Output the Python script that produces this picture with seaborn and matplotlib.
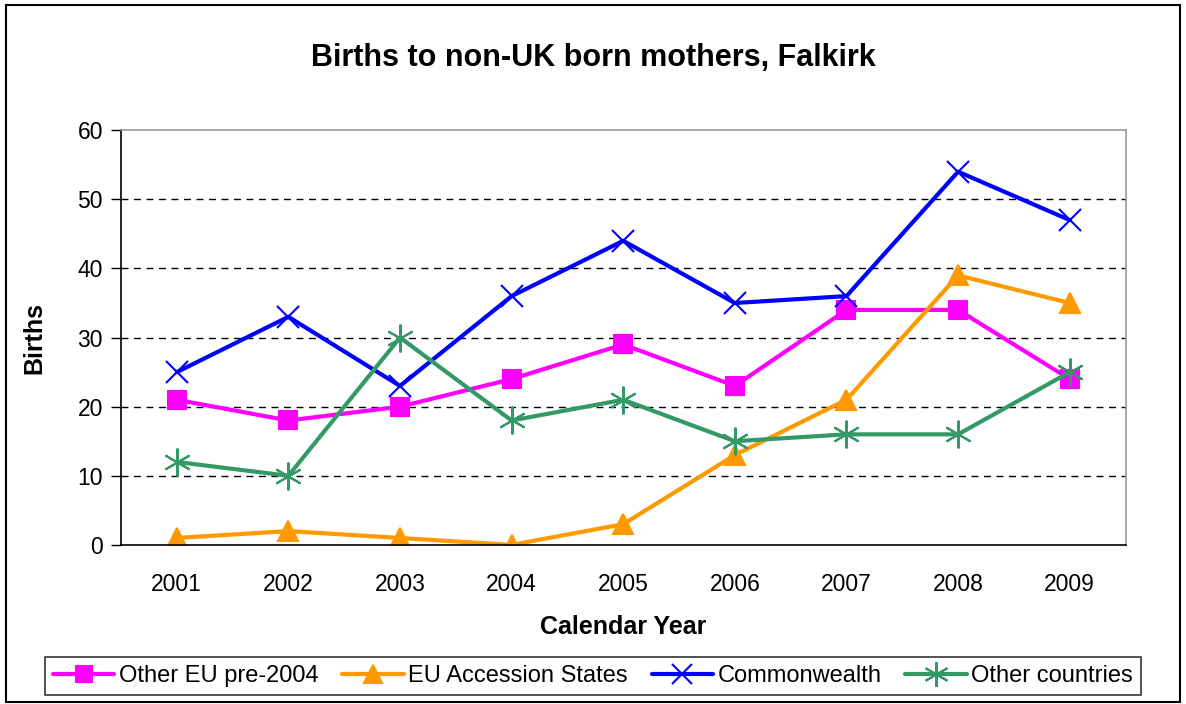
import matplotlib
matplotlib.use("Agg")
import matplotlib.pyplot as plt
import seaborn as sns
import pandas as pd
import numpy as np

# data
years = ["2001", "2002", "2003", "2004", "2005", "2006", "2007", "2008", "2009"]
other_eu = [21, 18, 20, 24, 29, 23, 34, 34, 24]
eu_accession = [1, 2, 1, 0, 3, 13, 21, 39, 35]
commonwealth = [25, 33, 23, 36, 44, 35, 36, 54, 47]
other_countries = [12, 10, 30, 18, 21, 15, 16, 16, 25]

series_names = ["Other EU pre-2004", "EU Accession States", "Commonwealth", "Other countries"]
colors = ["#FF00FF", "#FF9900", "#0000FF", "#339966"]
markers = ["s", "^", "x", (6, 2, 0)]
sizes = [13, 14, 16, 20]

sns.set_style("white")
plt.rcParams['font.family'] = ['Liberation Sans', 'DejaVu Sans']
for key in ['text.color', 'axes.labelcolor', 'xtick.color', 'ytick.color']:
    plt.rcParams[key] = 'black'

fig = plt.figure(figsize=(11.86, 7.04), dpi=100)
ax = fig.add_axes([0.102, 0.226, 0.847, 0.589])

pos = np.arange(len(years))
all_values = [other_eu, eu_accession, commonwealth, other_countries]
for name, vals, col, mk, sz in zip(series_names, all_values, colors, markers, sizes):
    df = pd.DataFrame({"pos": pos, "births": vals})
    sns.lineplot(data=df, x="pos", y="births", ax=ax, color=col, lw=3,
                 marker=mk, markersize=sz, markeredgecolor=col,
                 markeredgewidth=1.5, label=name)

ax.set_xlim(-0.5, len(years) - 0.5)
ax.set_ylim(0, 60)
ax.set_yticks(range(0, 61, 10))
ax.set_xticks(pos)
ax.set_xticklabels(years)
ax.set_xticks(np.arange(-0.5, len(years), 1), minor=True)
ax.tick_params(axis='x', which='major', length=0, labelsize=16.5, pad=20)
ax.tick_params(axis='x', which='minor', length=7, width=1, color='black', direction='out')
ax.tick_params(axis='y', length=7, width=1, color='black', direction='out', labelsize=16.5, left=True, pad=6)

for y in range(10, 60, 10):
    ax.axhline(y, color='black', lw=1, ls=(0, (5, 4)), zorder=0)

for side in ['left', 'bottom']:
    ax.spines[side].set_color('black')
    ax.spines[side].set_linewidth(1.2)
for side in ['top', 'right']:
    ax.spines[side].set_color('#999999')
    ax.spines[side].set_linewidth(1.2)

ax.set_xlabel("Calendar Year", fontsize=18, fontweight='bold', labelpad=14)
ax.set_ylabel("Births", fontsize=18, fontweight='bold', labelpad=22)
fig.text(0.5, 0.918, "Births to non-UK born mothers, Falkirk",
         ha='center', va='center', fontsize=22, fontweight='bold')

ax.get_legend().remove()
handles, labels = ax.get_legend_handles_labels()
fig.legend(handles, labels, loc='center', bbox_to_anchor=(0.5, 0.04), ncol=4,
           frameon=True, fancybox=False, edgecolor='black', fontsize=17,
           handlelength=2.6, handletextpad=0.2, columnspacing=1.0,
           borderpad=0.35, markerscale=0.9).get_frame().set_linewidth(1.2)

# outer chart border
fig.patches.append(plt.Rectangle((0.005, 0.003), 0.99, 0.99, transform=fig.transFigure,
                                 fill=False, edgecolor='black', lw=1.5))

fig.savefig("out.png", dpi=100)
